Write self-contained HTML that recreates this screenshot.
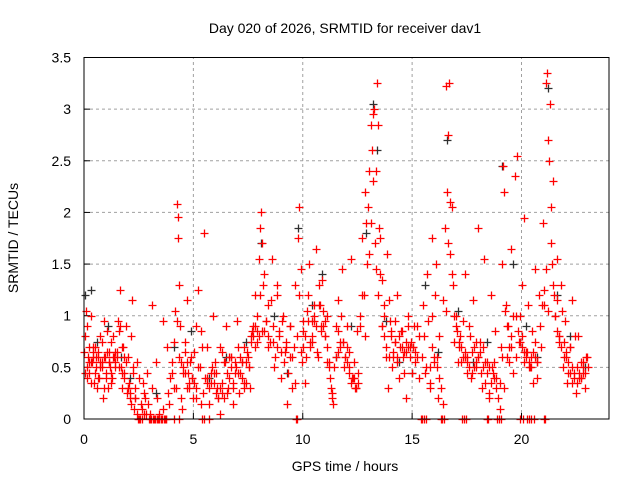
<!DOCTYPE html>
<html><head><meta charset="utf-8"><style>
body{margin:0;background:#fff}
svg{display:block;font-family:"Liberation Sans",sans-serif}
</style></head><body>
<svg id="chart" width="640" height="480" viewBox="0 0 640 480">
<rect width="640" height="480" fill="#fff"/>
<text x="345" y="33" text-anchor="middle" font-size="14" fill="#000">Day 020 of 2026, SRMTID for receiver dav1</text>
<text x="345" y="471" text-anchor="middle" font-size="14" fill="#000">GPS time / hours</text>
<text transform="translate(18,238) rotate(-90)" text-anchor="middle" font-size="14" fill="#000">SRMTID / TECUs</text>
<g id="grid"></g>
<g id="ticks"></g>
<g id="blackPts"></g>
<g id="redPts"></g>
<rect x="84" y="57.5" width="525" height="361.5" fill="none" stroke="#000" stroke-width="1"/>
</svg>
<script>
const xTicks=[0,5,10,15,20];
const yTicks=[0,0.5,1,1.5,2,2.5,3,3.5];
const yTickLabels=["0","0.5","1","1.5","2","2.5","3","3.5"];
const redHours=[0.05,0.1,0.15,0.2,0.25,0.3,0.35,0.4,0.45,0.5,0.55,0.6,0.65,0.7,0.75,0.8,0.85,0.9,0.95,1.0,1.05,1.1,1.15,1.2,1.25,1.3,1.35,1.4,1.5,1.55,1.6,1.65,1.7,1.75,1.8,1.85,1.9,1.95,2.0,2.05,2.1,2.15,2.2,2.25,2.3,2.35,2.4,2.5,2.6,2.7,2.75,2.8,2.9,3.0,3.1,3.2,3.3,3.4,3.5,3.6,3.7,3.8,3.9,4.0,4.1,4.15,4.2,4.25,4.28,4.3,4.35,4.4,4.45,4.5,4.6,4.7,4.75,4.8,4.9,5.0,5.1,5.2,5.3,5.35,5.4,5.5,5.6,5.7,5.8,5.9,6.0,6.1,6.2,6.3,6.4,6.5,6.6,6.7,6.8,6.9,7.0,7.1,7.2,7.3,7.4,7.5,7.6,7.7,7.8,7.9,8.0,8.05,8.1,8.15,8.2,8.3,8.4,8.5,8.6,8.7,8.8,8.9,9.0,9.1,9.2,9.3,9.4,9.5,9.6,9.65,9.7,9.8,9.85,9.9,9.95,10.0,10.1,10.2,10.3,10.4,10.5,10.6,10.7,10.8,10.9,11.0,11.1,11.2,11.3,11.4,11.5,11.6,11.7,11.8,11.9,12.0,12.1,12.2,12.3,12.4,12.5,12.6,12.7,12.8,12.85,12.9,13.0,13.05,13.1,13.15,13.2,13.25,13.3,13.35,13.4,13.45,13.5,13.55,13.6,13.7,13.8,13.9,14.0,14.1,14.2,14.3,14.4,14.5,14.6,14.7,14.8,14.9,15.0,15.1,15.2,15.3,15.4,15.5,15.6,15.7,15.8,15.9,16.0,16.1,16.2,16.3,16.4,16.5,16.55,16.6,16.65,16.7,16.75,16.8,16.85,16.9,17.0,17.1,17.2,17.3,17.4,17.5,17.6,17.7,17.8,17.9,18.0,18.1,18.2,18.3,18.4,18.5,18.6,18.7,18.8,18.9,19.0,19.05,19.1,19.15,19.2,19.3,19.4,19.5,19.6,19.7,19.75,19.8,19.9,20.0,20.1,20.2,20.3,20.4,20.5,20.6,20.7,20.8,20.9,21.0,21.05,21.1,21.15,21.2,21.25,21.3,21.35,21.4,21.45,21.5,21.6,21.7,21.8,21.9,22.0,22.1,22.2,22.3,22.4,22.5,22.6,22.7,22.8,22.9,23.0];
const redValues=[0.8,1.05,0.5,0.6,0.45,1.0,0.55,0.65,0.35,0.7,0.5,0.3,0.6,0.4,0.8,0.55,0.2,0.95,0.6,0.45,0.85,0.3,0.65,0.5,0.75,0.4,0.6,0.55,0.65,0.95,0.85,1.25,0.5,0.3,0.7,0.45,0.9,0.25,0.6,0.35,0.2,0.8,1.15,0.45,0.1,0.3,0.55,0.0,0.15,0.35,0.05,0.2,0.45,0.0,1.1,0.0,0.55,0.0,0.0,0.95,0.0,0.7,0.15,0.45,0.75,1.05,0.3,2.08,1.96,1.75,1.3,0.9,0.55,0.1,0.65,1.15,0.45,0.35,0.6,0.2,0.9,1.25,0.5,0.15,0.7,1.8,0.35,0.0,0.45,1.0,0.55,0.3,0.05,0.65,0.2,0.9,0.3,0.6,0.15,0.45,0.95,0.25,0.55,0.7,0.35,0.6,0.3,0.85,1.2,0.75,1.55,1.85,2.0,1.7,1.3,0.95,1.1,0.75,1.55,0.5,1.2,0.85,0.4,1.0,0.65,0.15,0.9,0.3,0.7,1.3,0.0,1.75,2.05,1.45,0.55,0.95,0.35,1.05,1.5,0.75,0.95,1.65,0.6,1.1,1.35,0.8,1.0,0.55,0.3,0.15,0.6,1.15,0.75,1.45,0.5,0.9,0.65,1.55,0.4,0.3,0.85,1.0,1.75,1.2,2.2,1.9,2.05,2.4,2.85,2.6,2.95,3.0,1.7,2.4,3.25,2.85,1.85,1.4,0.9,1.1,0.6,0.3,0.95,0.5,0.75,1.2,0.4,0.85,0.6,0.2,1.0,0.7,0.45,0.9,0.6,0.8,0.0,1.1,0.45,1.4,0.3,1.75,0.6,1.5,0.2,0.0,1.15,1.85,3.22,2.2,2.75,3.25,1.6,2.05,1.3,0.75,1.0,0.55,0.8,0.0,1.4,0.6,0.9,0.4,1.15,0.5,1.85,0.75,0.3,1.55,0.0,0.2,1.2,0.45,0.85,0.0,0.1,0.7,1.5,2.45,2.2,1.1,0.9,1.65,0.45,2.35,1.0,2.55,0.75,1.3,1.95,0.65,1.1,0.5,0.85,1.45,0.4,1.2,0.7,1.9,1.1,3.25,3.35,2.7,2.5,3.05,2.05,1.5,2.3,1.2,1.55,0.8,1.3,0.5,0.95,0.35,0.7,1.15,0.45,0.25,0.8,0.4,0.55,0.3,0.6];
const coreHours=[0.0,0.12,0.22,0.32,0.42,0.52,0.62,0.72,0.82,0.92,1.02,1.12,1.22,1.32,1.42,1.62,1.72,1.82,2.02,2.12,2.32,4.52,4.62,4.72,4.82,4.92,5.02,5.12,5.62,5.72,5.82,5.92,6.02,6.12,6.22,6.32,6.42,6.52,6.62,6.72,6.82,6.92,7.02,7.12,7.22,7.32,7.42,7.52,7.62,7.72,7.82,7.92,8.02,8.22,8.42,8.62,8.82,9.02,9.22,9.42,10.02,10.12,10.22,10.32,10.42,10.52,10.62,10.72,10.82,10.92,11.02,11.12,11.22,11.32,11.62,11.72,11.82,11.92,12.02,12.12,12.22,12.32,12.42,12.52,13.62,13.72,13.82,13.92,14.02,14.12,14.22,14.32,14.42,14.52,14.62,14.72,14.82,14.92,15.02,15.12,15.82,15.92,16.02,16.12,16.22,17.02,17.12,17.22,17.32,17.42,17.52,17.62,17.72,17.82,17.92,18.02,18.12,18.22,18.32,18.42,18.52,18.62,18.72,18.82,19.22,19.32,19.42,19.52,19.92,20.02,20.12,20.22,20.32,20.42,20.52,20.62,20.72,21.52,21.62,21.72,21.82,21.92,22.02,22.12,22.22,22.32,22.42,22.52,22.62,22.72,22.82,22.92,23.02,2.45,2.55,2.65,2.95,3.05,3.15,3.25,3.35,3.45,3.55,3.65,3.75,4.12,4.32,5.38,5.48,9.72,15.45,15.55,15.65,16.35,16.45,17.35,17.45,18.45,18.95,19.05,19.95,20.05,20.25,20.35,20.45,20.55,21.02,21.08];
const coreValues=[0.65,0.4,0.7,0.55,0.6,0.45,0.65,0.55,0.5,0.6,0.4,0.55,0.45,0.6,0.65,0.5,0.45,0.6,0.3,0.25,0.2,0.5,0.45,0.55,0.3,0.4,0.35,0.2,0.4,0.3,0.35,0.45,0.25,0.2,0.3,0.25,0.55,0.45,0.6,0.5,0.35,0.55,0.45,0.6,0.4,0.35,0.55,0.5,0.75,0.8,0.9,0.85,0.8,0.85,0.8,0.75,0.7,0.65,0.7,0.6,0.7,0.8,0.95,0.7,0.8,1.0,0.9,1.1,0.85,0.9,0.95,0.7,0.5,0.25,0.85,0.7,0.75,0.6,0.55,0.45,0.35,0.4,0.3,0.35,0.9,0.8,0.7,0.6,0.85,0.65,0.75,0.6,0.8,0.7,0.65,0.75,0.7,0.6,0.7,0.65,0.5,1.0,0.55,0.6,0.4,0.9,0.75,0.7,0.6,0.65,0.55,0.5,0.45,0.7,0.55,0.6,0.65,0.5,0.55,0.45,0.5,0.35,0.55,0.4,0.3,0.6,0.55,0.7,1.0,0.8,0.65,0.6,0.55,0.5,0.65,0.6,0.55,1.0,0.85,0.75,0.7,0.6,0.65,0.55,0.45,0.5,0.4,0.35,0.45,0.4,0.5,0.45,0.5,0,0,0,0,0,0,0,0,0,0,0,0,0,0,0,0,0,0,0,0,0,0,0,0,0,0,0,0,0,0,0,0,0,0,0];
const extraHours=[0.03,0.13,0.23,0.33,0.43,0.53,0.63,0.73,0.83,0.93,1.03,1.13,1.23,1.33,1.43,1.53,1.63,1.73,1.83,1.93,2.03,2.13,2.23,2.33,2.43,2.53,2.63,2.73,2.83,2.93,3.03,3.13,3.23,3.33,3.43,3.53,3.63,3.73,3.83,3.93,4.03,4.13,4.23,4.33,4.43,4.53,4.63,4.73,4.83,4.93,5.03,5.13,5.23,5.33,5.43,5.53,5.63,5.73,5.83,5.93,6.03,6.13,6.23,6.33,6.43,6.53,6.63,6.73,6.83,6.93,7.03,7.13,7.23,7.33,7.43,7.53,7.63,7.73,7.83,7.93,8.03,8.13,8.23,8.33,8.43,8.53,8.63,8.73,8.83,8.93,9.03,9.13,9.23,9.33,9.43,9.53,9.63,9.73,9.83,9.93,10.03,10.13,10.23,10.33,10.43,10.53,10.63,10.73,10.83,10.93,11.03,11.13,11.23,11.33,11.43,11.53,11.63,11.73,11.83,11.93,12.03,12.13,12.23,12.33,12.43,12.53,12.63,12.73,12.83,12.93,13.03,13.13,13.23,13.33,13.43,13.53,13.63,13.73,13.83,13.93,14.03,14.13,14.23,14.33,14.43,14.53,14.63,14.73,14.83,14.93,15.03,15.13,15.23,15.33,15.43,15.53,15.63,15.73,15.83,15.93,16.03,16.13,16.23,16.33,16.43,16.53,16.63,16.73,16.83,16.93,17.03,17.13,17.23,17.33,17.43,17.53,17.63,17.73,17.83,17.93,18.03,18.13,18.23,18.33,18.43,18.53,18.63,18.73,18.83,18.93,19.03,19.13,19.23,19.33,19.43,19.53,19.63,19.73,19.83,19.93,20.03,20.13,20.23,20.33,20.43,20.53,20.63,20.73,20.83,20.93,21.03,21.13,21.23,21.33,21.43,21.53,21.63,21.73,21.83,21.93,22.03,22.13,22.23,22.33,22.43,22.53,22.63,22.73,22.83,22.93];
const extraValues=[0.45,0.9,0.55,0.35,0.7,0.6,0.4,0.5,0.75,0.3,0.65,0.55,0.35,0.8,0.5,0.6,0.9,0.7,0.4,0.55,0.3,0.15,0.5,0.2,0.05,0.4,0.1,0.25,0.05,0.15,0.05,0.3,0.0,0.2,0.05,0.0,0.1,0.0,0.25,0.4,0.55,0.3,0.95,0.6,0.2,0.45,0.75,0.3,0.55,0.4,0.65,0.3,0.5,0.85,0.25,0.4,0.7,0.15,0.5,0.35,0.45,0.2,0.7,0.35,0.55,0.25,0.4,0.6,0.3,0.5,0.7,0.45,0.55,0.3,0.65,0.5,0.8,0.9,0.7,1.0,1.2,0.85,1.4,0.95,0.7,1.15,0.9,0.6,1.3,0.8,0.95,0.55,0.75,0.45,0.9,0.6,0.35,0.8,1.2,0.65,0.85,0.6,1.2,0.75,0.95,1.1,0.65,1.3,0.9,1.05,0.8,0.55,0.4,0.2,0.5,0.9,0.65,1.0,0.75,0.6,0.7,0.5,0.4,0.55,0.3,0.45,0.9,1.2,0.8,1.5,1.6,1.9,2.3,1.45,1.2,1.75,1.35,1.0,1.6,1.15,0.8,0.6,0.95,0.55,0.7,0.85,0.45,0.65,0.9,0.75,0.7,0.55,0.9,0.4,0.6,0.8,0.5,0.95,0.35,0.7,1.2,0.5,0.8,0.3,0.15,1.05,1.7,2.1,1.4,1.0,0.85,0.7,0.55,0.95,0.6,0.45,0.8,0.65,0.5,0.75,0.6,0.45,0.7,0.35,0.55,0.25,0.5,0.4,0.3,0.2,0.35,0.6,1.05,0.9,0.7,0.8,1.0,0.6,0.85,0.75,0.7,0.55,0.65,0.5,0.6,0.35,0.75,0.55,0.9,1.1,1.25,1.45,1.05,1.7,1.3,1.0,1.15,0.8,1.05,0.75,0.6,0.45,0.7,0.35,0.8,0.5,0.4,0.55,0.45,0.6];
const blackHours=[0.05,0.3,0.6,1.1,1.7,2.1,3.3,4.1,4.9,5.7,6.5,7.4,8.1,8.7,9.3,9.8,10.4,10.9,11.5,12.2,12.9,13.2,13.4,13.8,14.4,15.0,15.6,16.2,16.6,17.1,17.8,18.4,19.1,19.6,20.2,20.7,21.2,21.6,22.2,22.9];
const blackValues=[1.2,1.25,0.75,0.9,0.6,0.4,0.25,0.7,0.85,0.4,0.6,0.75,1.7,1.0,0.45,1.85,1.1,1.4,0.6,0.9,1.8,3.05,2.6,0.95,0.55,0.45,1.3,0.65,2.7,1.05,0.55,0.75,2.45,1.5,0.9,0.6,3.2,1.2,0.8,0.5];
const X0=84,X1=609,Y0=419,Y1=57.5,XMAX=24,YMAX=3.5;
function xScale(v){return X0+(X1-X0)*v/XMAX;}
function yScale(v){return Y0-(Y0-Y1)*v/YMAX;}
const NS="http://www.w3.org/2000/svg";
const grid=document.getElementById('grid'),ticks=document.getElementById('ticks');
function mk(tag,attrs,parent){const e=document.createElementNS(NS,tag);for(const k in attrs)e.setAttribute(k,attrs[k]);parent.appendChild(e);return e;}
yTicks.forEach((v,i)=>{
  const y=yScale(v);
  if(v>0&&v<YMAX){const g=mk('line',{x1:X0,x2:X1,y1:y,y2:y,stroke:'#a0a0a0','stroke-dasharray':'3,3'},grid);
  
  }
  const t=mk('line',{x1:X0,x2:X0+6,y1:y,y2:y,stroke:'#000'},ticks);
  
  
  const tx=mk('text',{x:71,y:y+5,'text-anchor':'end','font-size':'14',fill:'#000'},ticks);
  tx.textContent=yTickLabels[i];
  
  
});
xTicks.forEach(v=>{
  const x=xScale(v);
  if(v>0){const g=mk('line',{x1:x,x2:x,y1:Y0,y2:Y1,stroke:'#a0a0a0','stroke-dasharray':'3,3'},grid);
  
  }
  const t=mk('line',{x1:x,x2:x,y1:Y0,y2:Y0-6,stroke:'#000'},ticks);
  
  
  const tx=mk('text',{x:x,y:444,'text-anchor':'middle','font-size':'14',fill:'#000'},ticks);
  tx.textContent=String(v);
  
  
});
function plus(hrs,vals,color,parent,name){
  let d='';
  hrs.forEach((h,i)=>{const x=Math.round(xScale(h))+0.5,y=Math.round(yScale(vals[i]))+0.5;d+=`M${x-4},${y}h8M${x},${y-4}v8`;});
  const p=mk('path',{d:d,stroke:color,'stroke-width':'1.3',fill:'none'},parent);
  
  
}
plus(blackHours,blackValues,'#303030',document.getElementById('blackPts'),'black-points');
plus(extraHours,extraValues,'#ff0000',document.getElementById('redPts'),'red-extra-points');
plus(coreHours,coreValues,'#ff0000',document.getElementById('redPts'),'red-core-points');
plus(redHours,redValues,'#ff0000',document.getElementById('redPts'),'red-points');
</script>
</body></html>
